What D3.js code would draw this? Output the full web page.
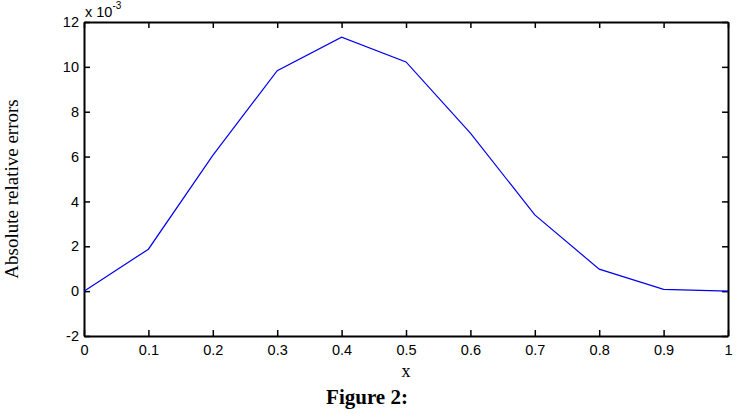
<!DOCTYPE html>
<html>
<head>
<meta charset="utf-8">
<script src="https://cdn.jsdelivr.net/npm/d3@7"></script>
<style>
  body { margin: 0; background: #fff; }
  svg text { fill: #000; }
</style>
</head>
<body>
<div id="chart"></div>
<script>
// data (y values are x 10^-3)
const xs = [0, 0.1, 0.2, 0.3, 0.4, 0.5, 0.6, 0.7, 0.8, 0.9, 1.0];
const errs = [0, 1.87, 6.05, 9.83, 11.32, 10.22, 7.05, 3.4, 0.98, 0.08, 0.0];
const xTicks = [0, 0.1, 0.2, 0.3, 0.4, 0.5, 0.6, 0.7, 0.8, 0.9, 1];
const yTicks = [-2, 0, 2, 4, 6, 8, 10, 12];

const W = 740, H = 416;
const margins = {top: 22, right: 12, bottom: 80, left: 84};
const width = W - margins.left - margins.right;
const height = H - margins.top - margins.bottom;

const svg = d3.select("#chart").append("svg")
    .attr("width", W)
    .attr("height", H);

const g = svg.append("g")
    .attr("transform", `translate(${margins.left},${margins.top})`);

const xScale = d3.scaleLinear().domain([0, 1]).range([0, width]);
const yScale = d3.scaleLinear().domain([-2, 12]).range([height, 0]);

const tickFont = "'Liberation Sans', Arial, sans-serif";

// inward ticks on all four sides (matlab box)
const axB = g.append("g").attr("transform", `translate(0,${height})`)
    .call(d3.axisBottom(xScale).tickValues(xTicks).tickSizeInner(-6).tickSizeOuter(0).tickPadding(9)
        .tickFormat(d => d === 0 ? "0" : d === 1 ? "1" : d3.format(".1f")(d)));
const axT = g.append("g")
    .call(d3.axisTop(xScale).tickValues(xTicks).tickSizeInner(-6).tickSizeOuter(0).tickFormat(""));
const axL = g.append("g")
    .call(d3.axisLeft(yScale).tickValues(yTicks).tickSizeInner(-6).tickSizeOuter(0).tickPadding(5)
        .tickFormat(d => String(d)));
const axR = g.append("g").attr("transform", `translate(${width},0)`)
    .call(d3.axisRight(yScale).tickValues(yTicks).tickSizeInner(-6).tickSizeOuter(0).tickFormat(""));

[axB, axT, axL, axR].forEach(a => {
    a.select(".domain").attr("stroke", "#000").attr("stroke-width", 2);
    a.selectAll(".tick line").attr("stroke", "#000").attr("stroke-width", 1.5);
    a.selectAll("text").style("font-family", tickFont).style("font-size", "14.5px").attr("fill", "#000");
});

// the line
const line = d3.line()
    .x((d, i) => xScale(xs[i]))
    .y(d => yScale(d));

g.append("path")
    .datum(errs)
    .attr("fill", "none")
    .attr("stroke", "#0000ee")
    .attr("stroke-width", 1.2)
    .attr("d", line);

// exponent label
const expo = svg.append("text")
    .attr("x", margins.left + 1)
    .attr("y", 17)
    .style("font-family", tickFont)
    .style("font-size", "14.5px");
expo.append("tspan").text("x 10");
expo.append("tspan").attr("dy", -8).style("font-size", "10px").text("-3");

// axis labels
svg.append("text")
    .attr("transform", `translate(18,189) rotate(-90)`)
    .attr("text-anchor", "middle")
    .style("font-family", "'Liberation Serif', 'Times New Roman', serif")
    .style("font-size", "19px")
    .text("Absolute relative errors");

svg.append("text")
    .attr("x", margins.left + width / 2)
    .attr("y", 377)
    .attr("text-anchor", "middle")
    .style("font-family", "'Liberation Serif', 'Times New Roman', serif")
    .style("font-size", "18px")
    .text("x");

svg.append("text")
    .attr("x", 367)
    .attr("y", 404)
    .attr("text-anchor", "middle")
    .style("font-family", "'Liberation Serif', 'Times New Roman', serif")
    .style("font-weight", "bold")
    .style("font-size", "21px")
    .text("Figure 2:");
</script>
</body>
</html>
